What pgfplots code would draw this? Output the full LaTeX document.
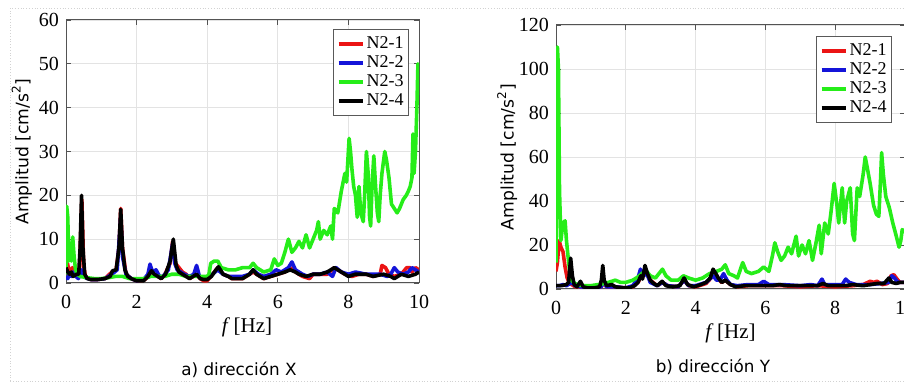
\documentclass[border=0pt]{standalone}
\usepackage{pgfplots}
\pgfplotsset{compat=1.18}
\usepackage{fontspec}
\setmainfont{Liberation Serif}
\newfontfamily\dejavu{DejaVu Sans}
\definecolor{cred}{rgb}{0.92,0.08,0.08}
\definecolor{cblue}{rgb}{0.08,0.08,0.85}
\definecolor{cgreen}{rgb}{0.15,0.93,0.1}
\pgfplotsset{
  mystyle/.style={
    scale only axis,
    xmin=0, xmax=10, ymin=0,
    xtick={0,2,4,6,8,10},
    grid=major,
    grid style={gray!22, line width=0.4pt},
    axis line style={gray!65!black, line width=0.5pt},
    tick style={gray!65!black, line width=0.4pt},
    tick align=inside, major tick length=2.5pt,
    /pgf/number format/assume math mode=true,
    ticklabel style={font=\fontsize{10}{12}\selectfont},
    xticklabel style={yshift=-2.5pt},
    xlabel={\fontsize{10.5}{12}\selectfont\textit{f}\,[Hz]},
    ylabel={\dejavu\fontsize{8.6}{10}\selectfont Amplitud [cm/s\textsuperscript{2}]},
    legend cell align=left,
    legend image code/.code={\draw[##1, line width=1.8pt] (0pt,0pt) -- (12pt,0pt);},
    every axis plot/.append style={line width=1.8pt, line join=round},
    mylegend/.style={draw=gray!70!black, line width=0.5pt, font=\fontsize{9}{10}\selectfont,
      inner xsep=1.5pt, inner ysep=1.5pt, row sep=-2pt,
      nodes={inner xsep=1pt},
      /tikz/every even column/.append style={column sep=0pt}},
  }
}
\begin{document}
\begin{tikzpicture}
\path[use as bounding box] (0,0) rectangle (452pt,191.5pt);
\clip (0,0) rectangle (452pt,191.5pt);
\draw[gray!35, densely dotted, line width=0.4pt] (5pt,1pt) -- (5pt,187.5pt) -- (460pt,187.5pt);
\draw[gray!35, densely dotted, line width=0.4pt] (5pt,1pt) -- (460pt,1pt);
% ---------------- a) direccion X
\begin{axis}[mystyle,
  at={(33pt,50pt)}, anchor=south west,
  width=176.5pt, height=131.5pt,
  ymax=60, ytick={0,10,...,60},
  xlabel style={at={(axis description cs:0.513,-0.167)}, anchor=center},
  ylabel style={at={(axis description cs:-0.125,0.5)}, anchor=center},
  legend style={mylegend, at={(axis description cs:1,1)}, anchor=north east, xshift=-5pt, yshift=-4.5pt},
]
\addplot[cred] coordinates {(0,2.5)(0.04,4.5)(0.08,3)(0.12,2.5)(0.18,3.5)(0.25,2.5)(0.32,2)(0.38,3)(0.45,19)(0.5,4)(0.55,1.5)(0.7,0.8)(0.9,0.8)(1.1,1)(1.3,2.5)(1.42,3)(1.5,8)(1.55,17)(1.6,8)(1.7,2)(1.85,1)(2.0,0.5)(2.2,0.6)(2.35,1.5)(2.42,3)(2.5,2)(2.6,1.5)(2.7,1)(2.8,2)(2.95,4.5)(3.02,9.5)(3.1,4.5)(3.2,3.5)(3.3,2.5)(3.4,2)(3.5,1)(3.6,1.5)(3.7,2)(3.8,1)(3.9,0.5)(4.0,0.5)(4.1,1.5)(4.3,3.5)(4.45,2)(4.6,1.5)(4.7,1)(5.0,1)(5.1,1.5)(5.3,2.5)(5.4,2)(5.6,1)(5.8,1.5)(6.0,2)(6.2,2.5)(6.35,3.5)(6.5,2.5)(6.7,1.5)(6.9,1)(7.0,2)(7.2,2)(7.4,2)(7.6,3.5)(7.7,3)(7.9,2)(8.1,1.5)(8.3,2)(8.5,2)(8.7,1.5)(8.9,2)(8.95,4)(9.05,3.5)(9.15,2)(9.3,1.5)(9.5,2)(9.65,3.5)(9.75,3.5)(9.8,2.5)(9.9,3.5)(10,3)};
\addlegendentry{N2-1}
\addplot[cblue] coordinates {(0,1.5)(0.05,1)(0.1,2)(0.15,1.5)(0.2,2.5)(0.28,1.5)(0.35,1)(0.45,3)(0.55,1.2)(0.7,0.8)(0.9,0.8)(1.1,1)(1.3,2)(1.45,3)(1.55,15)(1.6,6)(1.7,2)(1.85,1)(2.0,0.5)(2.2,0.8)(2.32,2)(2.38,4.3)(2.45,2.5)(2.55,3)(2.65,1.5)(2.75,1.5)(2.9,3)(3.02,9)(3.08,4.5)(3.15,3)(3.25,2.5)(3.35,2)(3.5,1.5)(3.62,2)(3.7,4)(3.78,1.5)(3.9,1)(4.0,1)(4.15,2)(4.3,3)(4.45,2)(4.6,1.5)(4.8,1.5)(5.0,1.5)(5.2,2)(5.3,3)(5.45,2)(5.6,1.5)(5.8,2)(5.95,3)(6.1,2.5)(6.3,3.5)(6.4,4.8)(6.5,3)(6.7,2)(6.85,1.5)(7.0,2)(7.2,2)(7.4,2.5)(7.55,1.5)(7.65,3.5)(7.8,2.5)(8.0,2)(8.2,2.5)(8.5,2)(8.7,2)(8.9,2)(9.1,1.5)(9.2,2)(9.3,3.5)(9.4,2.5)(9.55,2)(9.7,2.5)(9.8,3.5)(9.9,3)(10,2.5)};
\addlegendentry{N2-2}
\addplot[cgreen] coordinates {(0,2)(0.02,17.5)(0.05,15)(0.08,5)(0.12,9)(0.15,5)(0.19,10.5)(0.23,6)(0.27,3)(0.32,2)(0.4,1.5)(0.6,1.2)(0.8,1)(1.0,1)(1.2,1.2)(1.4,1.5)(1.6,1.5)(1.8,1)(2.0,1)(2.2,1)(2.4,1.5)(2.6,1.5)(2.8,1.5)(3.0,2)(3.2,2)(3.4,1.5)(3.6,1.5)(3.8,1.5)(4.0,1.5)(4.05,2)(4.1,4.5)(4.2,5)(4.3,5)(4.4,3.5)(4.6,3)(4.8,3)(5.0,3.5)(5.2,3.5)(5.3,4.5)(5.4,3.5)(5.6,2.5)(5.8,3)(5.9,5.5)(6.0,4)(6.1,4.5)(6.2,7)(6.3,10)(6.4,7)(6.5,8)(6.6,9.5)(6.7,8)(6.8,11)(6.9,8)(7.0,10)(7.1,12)(7.15,14)(7.2,10)(7.3,12)(7.4,11)(7.5,13)(7.55,10)(7.6,17)(7.7,16)(7.8,21)(7.9,25)(7.95,23)(8.02,33)(8.06,30)(8.1,26)(8.15,22)(8.2,20)(8.25,15)(8.3,22)(8.35,16)(8.42,14)(8.46,20)(8.51,30)(8.56,25)(8.6,15)(8.63,13)(8.67,22)(8.72,29)(8.77,22)(8.82,16)(8.86,14)(8.9,20)(8.95,25)(9.03,30)(9.08,28)(9.15,24)(9.22,18)(9.3,17)(9.38,16)(9.45,17)(9.55,19)(9.64,20)(9.7,21)(9.75,22)(9.8,24)(9.83,34)(9.86,25)(9.9,30)(9.94,40)(9.97,50)(10,48)};
\addlegendentry{N2-3}
\addplot[black] coordinates {(0,3.5)(0.05,2.5)(0.1,2)(0.15,2.5)(0.2,1.5)(0.3,2)(0.36,2)(0.4,8)(0.44,20)(0.48,8)(0.53,2)(0.6,1)(0.7,0.8)(0.9,0.8)(1.1,1)(1.25,1.5)(1.32,2.8)(1.42,3)(1.5,8)(1.55,16.8)(1.6,8)(1.67,3)(1.75,1.5)(1.85,1)(2.0,0.5)(2.2,0.5)(2.32,1.5)(2.42,2.8)(2.5,2)(2.6,1.5)(2.7,1)(2.82,2)(2.95,5)(3.04,10)(3.12,4)(3.2,2.5)(3.3,2)(3.4,1.5)(3.5,1)(3.6,1.5)(3.7,2)(3.8,1)(3.9,0.8)(4.0,0.8)(4.12,1.5)(4.25,3)(4.32,3.7)(4.45,2)(4.6,1.5)(4.7,1)(5.0,1)(5.1,1.5)(5.2,2)(5.3,3)(5.4,2)(5.5,1.5)(5.6,1)(5.8,1.5)(6.0,2)(6.2,2.5)(6.35,3)(6.5,2.5)(6.6,2)(6.8,1.5)(7.0,2)(7.2,2)(7.4,2.5)(7.6,3.5)(7.7,3)(7.9,2)(8.0,1.5)(8.2,2)(8.5,2)(8.7,1.5)(9.0,2)(9.2,1.5)(9.3,1)(9.5,2)(9.7,1.5)(9.9,2)(10,2.5)};
\addlegendentry{N2-4}
\end{axis}
% ---------------- b) direccion Y
\begin{axis}[mystyle,
  at={(278pt,47pt)}, anchor=south west,
  width=174.5pt, height=132pt,
  ymax=120, ytick={0,20,...,120},
  xlabel style={at={(axis description cs:0.5,-0.167)}, anchor=center},
  ylabel style={at={(axis description cs:-0.140,0.5)}, anchor=center},
  legend style={mylegend, at={(axis description cs:1,1)}, anchor=north east, xshift=-6.5pt, yshift=-5.5pt},
]
\addplot[cred] coordinates {(0,8)(0.04,12)(0.09,22)(0.14,19)(0.2,17)(0.26,10)(0.32,5)(0.38,3)(0.45,2)(0.55,1)(0.7,1)(1.0,0.5)(1.3,1)(1.35,3)(1.45,1)(1.7,1)(2.0,0.5)(2.2,1)(2.35,3)(2.45,6)(2.57,8)(2.7,4)(2.9,1.5)(3.05,3)(3.2,1.5)(3.5,1)(3.67,4)(3.8,1.5)(4.0,1)(4.3,2.5)(4.5,6)(4.6,5)(4.75,3)(4.85,4)(5.0,2)(5.2,1)(5.5,1.5)(6.0,1.5)(6.5,1.5)(7.0,1)(7.5,1.5)(8.0,1)(8.5,1.5)(8.8,2)(9.0,3.5)(9.1,3)(9.2,3.5)(9.35,2)(9.5,2.5)(9.6,6)(9.68,6.5)(9.75,5)(9.85,3)(10,3)};
\addlegendentry{N2-1}
\addplot[cblue] coordinates {(0,1.5)(0.1,1.5)(0.2,2)(0.3,1.5)(0.4,2.5)(0.45,3)(0.55,1.5)(0.7,1)(1.0,0.5)(1.3,1)(1.35,4)(1.45,1)(1.7,1)(2.0,0.5)(2.2,1.5)(2.35,5)(2.42,9)(2.5,6)(2.6,7)(2.7,3)(2.9,1.5)(3.05,3)(3.2,1.5)(3.5,1)(3.67,4)(3.8,1.5)(4.0,1.5)(4.3,3)(4.5,6)(4.6,4)(4.7,4)(4.8,7)(4.9,4)(5.0,2)(5.2,1.5)(5.5,2)(5.8,2)(5.95,3.5)(6.1,2)(6.5,2)(7.0,1.5)(7.3,2)(7.5,1.5)(7.62,4.5)(7.7,2)(8.0,2)(8.2,2)(8.3,4.5)(8.4,3)(8.6,2)(9.0,2)(9.3,2.5)(9.55,3)(9.62,6)(9.7,5)(9.8,3)(10,3)};
\addlegendentry{N2-2}
\addplot[cgreen] coordinates {(0,12)(0.02,50)(0.04,110)(0.07,100)(0.1,45)(0.14,22)(0.2,30)(0.26,31)(0.3,22)(0.35,14)(0.4,7)(0.45,4)(0.5,3)(0.6,2)(0.8,1.5)(1.0,1.5)(1.2,2)(1.4,2.5)(1.6,3.5)(1.7,4)(1.85,3)(2.0,3)(2.2,4)(2.35,5.5)(2.5,7.5)(2.6,8)(2.7,6)(2.85,5)(3.05,9)(3.15,6)(3.3,4)(3.5,4)(3.65,6)(3.8,5)(4.0,4)(4.2,5)(4.4,7)(4.6,8)(4.75,9)(4.85,11)(4.95,7)(5.1,6)(5.2,5)(5.35,12)(5.45,8)(5.6,7)(5.8,8)(5.95,10)(6.1,8)(6.2,15)(6.27,21)(6.35,17)(6.45,13)(6.55,15)(6.65,19)(6.75,16)(6.88,24)(6.95,15)(7.05,20)(7.15,16)(7.25,22)(7.35,13)(7.45,21)(7.54,29)(7.6,16)(7.7,30)(7.8,25)(7.88,35)(7.97,48)(8.05,38)(8.1,30)(8.2,46)(8.27,30)(8.33,40)(8.43,46)(8.5,25)(8.55,22)(8.63,46)(8.7,42)(8.8,52)(8.86,60)(8.92,55)(9.0,48)(9.1,38)(9.18,34)(9.25,33)(9.3,50)(9.33,62)(9.38,52)(9.45,42)(9.55,37)(9.65,30)(9.75,24)(9.83,19)(9.88,22)(9.92,27)(10,26)};
\addlegendentry{N2-3}
\addplot[black] coordinates {(0,1.5)(0.15,1.5)(0.3,2)(0.36,3)(0.42,14)(0.47,6)(0.52,2)(0.6,1)(0.7,3.5)(0.78,1)(0.9,0.5)(1.1,0.5)(1.25,1)(1.3,4)(1.34,10.7)(1.38,4)(1.45,1.5)(1.6,2)(1.7,1)(1.9,0.5)(2.1,0.5)(2.25,1.5)(2.35,3)(2.43,6)(2.48,4.5)(2.55,10.7)(2.62,7)(2.7,4)(2.8,2.5)(2.9,1.5)(3.04,3.5)(3.15,1.5)(3.35,1)(3.55,1.5)(3.67,5)(3.77,2)(3.95,1)(4.15,2)(4.3,3)(4.42,5)(4.5,9)(4.58,7)(4.65,5)(4.75,3)(4.85,4)(5.0,2)(5.15,1)(5.4,1.5)(5.7,1.5)(6.0,1.5)(6.2,1.5)(6.4,2)(6.6,1.5)(6.8,1.5)(7.0,1.5)(7.2,1.5)(7.5,1.5)(7.65,2.5)(7.8,1.5)(8.0,1.5)(8.3,1.5)(8.5,2)(8.8,1.5)(9.0,2)(9.2,2.5)(9.4,2.5)(9.54,5)(9.62,3)(9.75,2.5)(9.85,3)(10,3)};
\addlegendentry{N2-4}
\end{axis}
\node[font=\dejavu\fontsize{8.4}{10}\selectfont] at (119.5pt,6.5pt) {a) dirección X};
\node[font=\dejavu\fontsize{8.4}{10}\selectfont] at (356.5pt,8pt) {b) dirección Y};
\end{tikzpicture}
\end{document}
